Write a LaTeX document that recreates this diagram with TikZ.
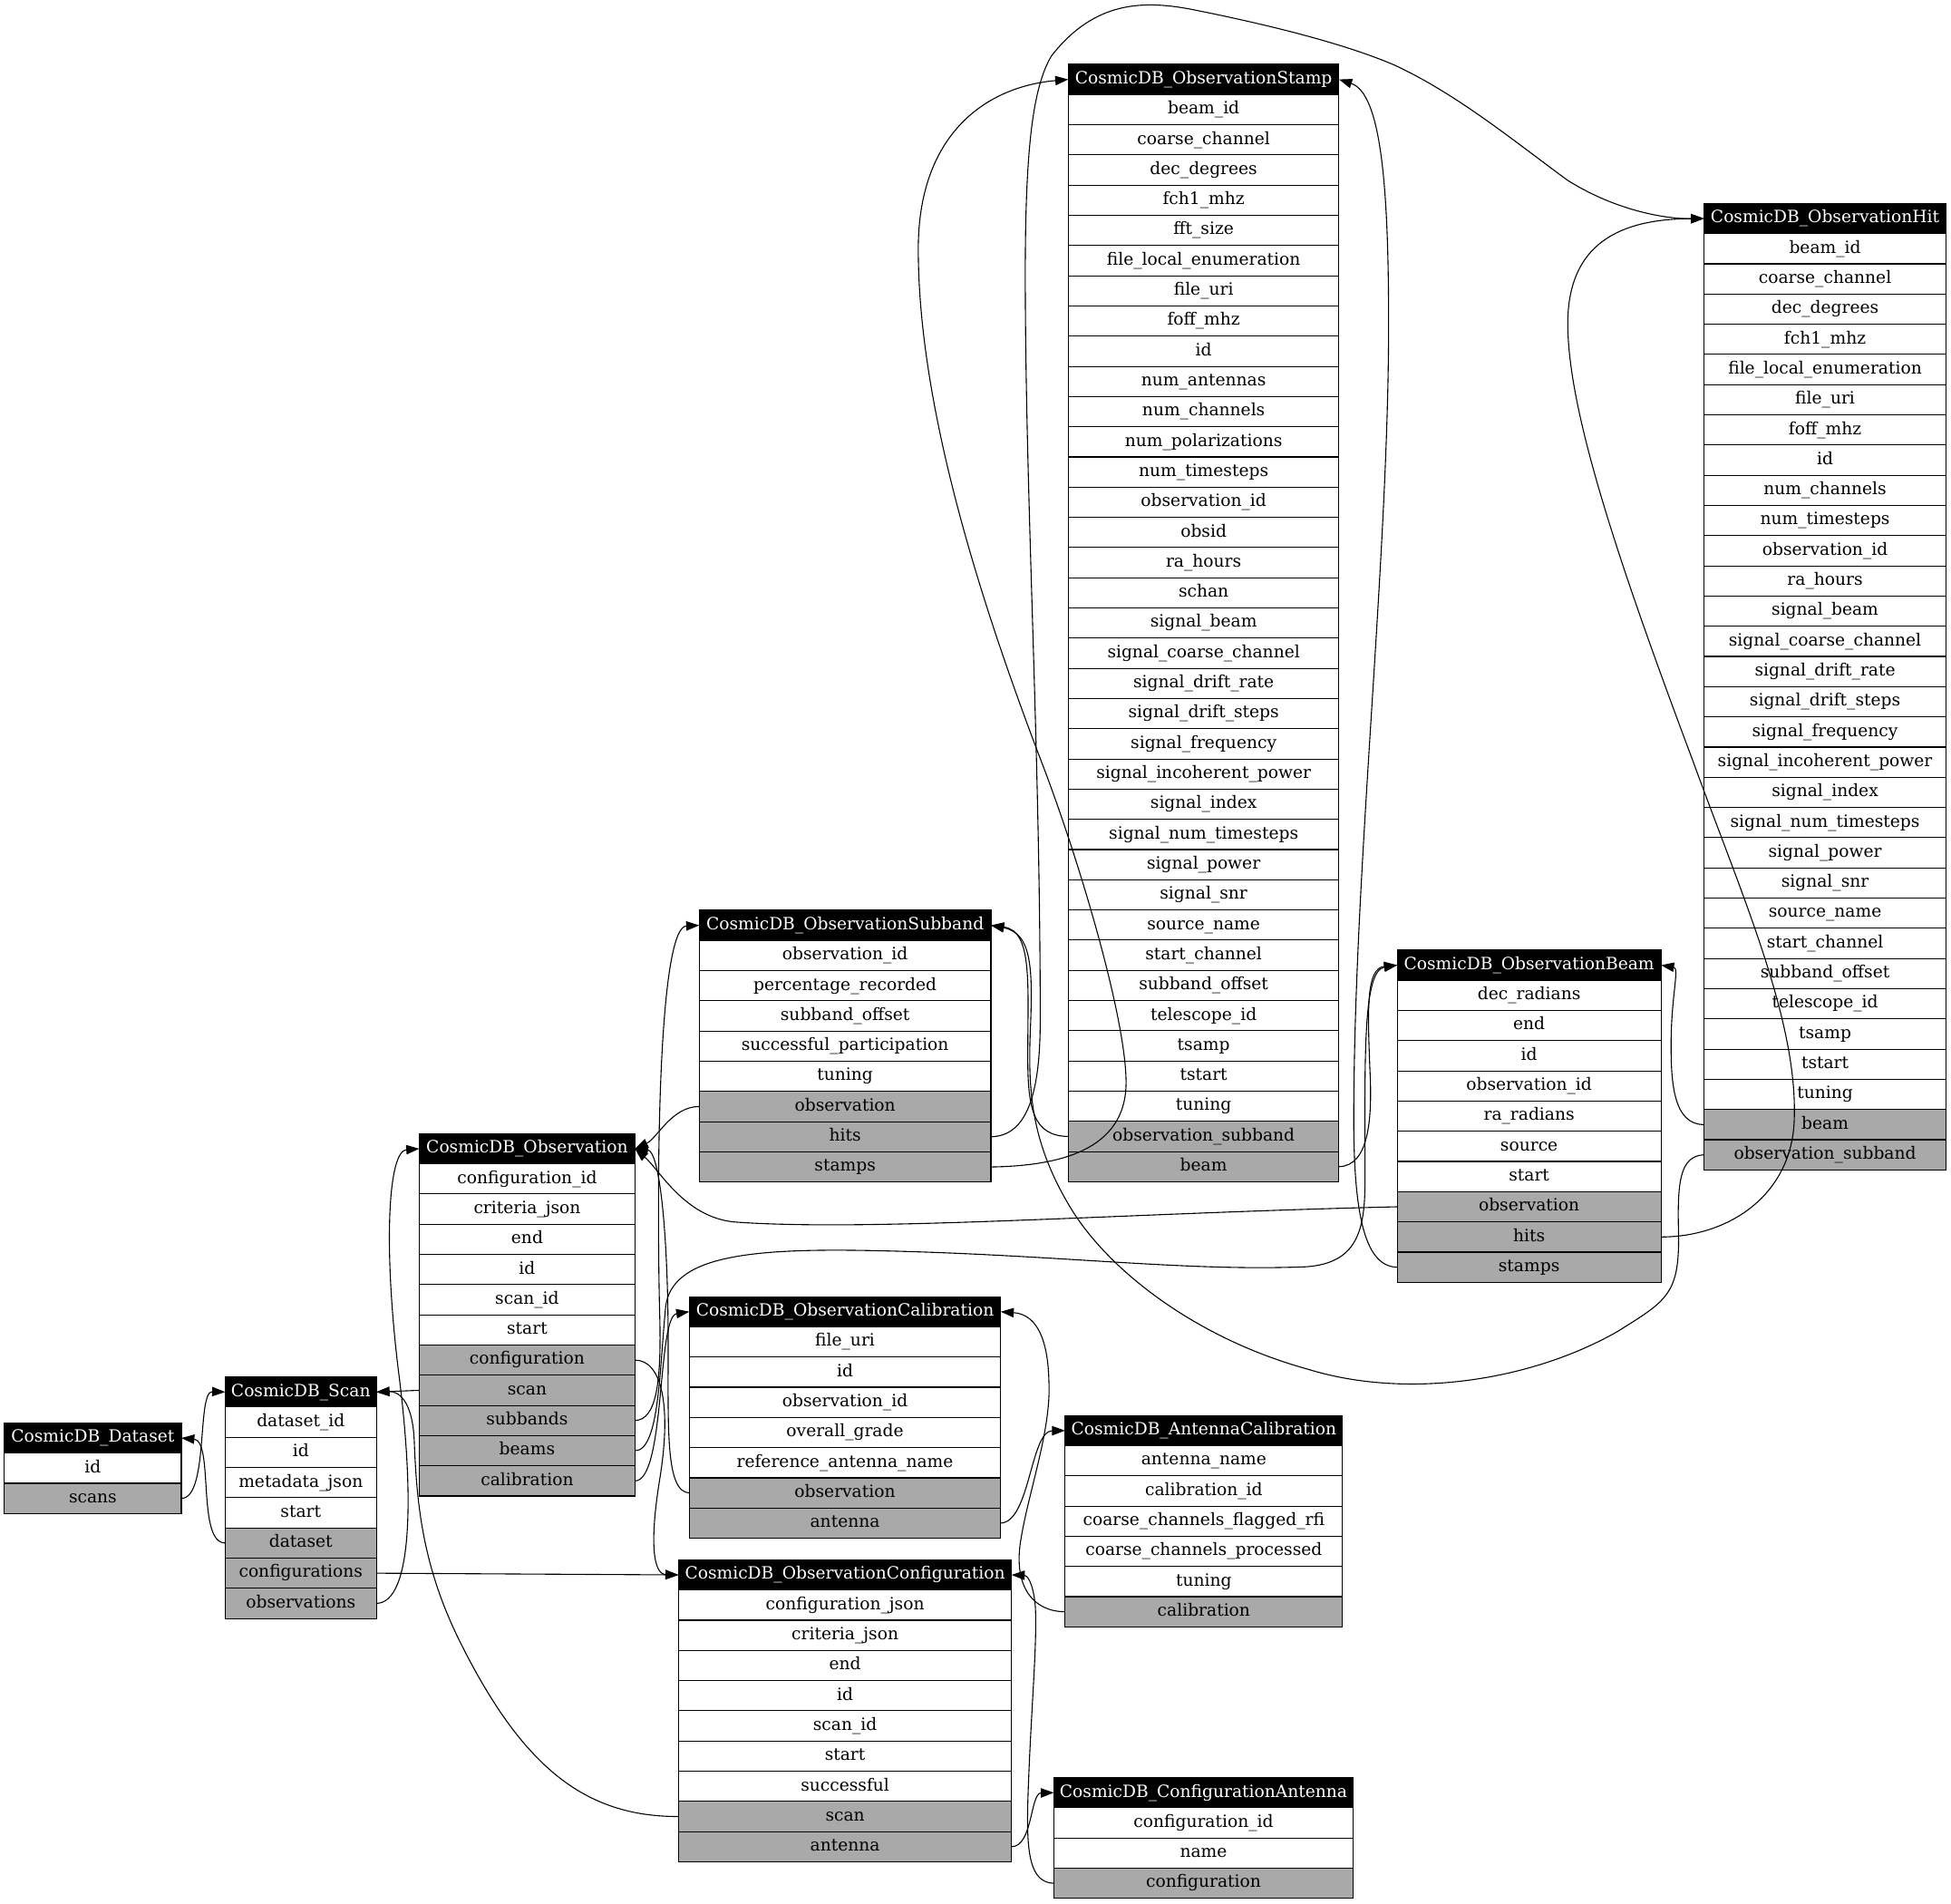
\documentclass[tikz,border=0pt]{standalone}
\usepackage{fontspec}
\setmainfont{DejaVu Serif}
\usetikzlibrary{positioning,arrows.meta}
\definecolor{linkgray}{RGB}{169,169,169}
\tikzset{
  tabcell/.style={draw=black, line width=0.8pt, minimum height=24.27pt, inner sep=0pt,
    outer sep=0pt, text height=10pt, text depth=3pt, font=\fontsize{13.6}{16}\selectfont},
  tabhead/.style={tabcell, fill=black, text=white, anchor=north west},
  tabrow/.style={tabcell, fill=white},
  tablink/.style={tabcell, fill=linkgray},
}
% one table: name, top left corner, width, title, fields, key/label of relations
\newcommand{\dbtable}[6]{%
  \node[tabhead, minimum width=#3] (#1) at #2 {#4};
  \xdef\lastrowname{#1}
  \foreach \fld [count=\i] in {#5} {
    \node[tabrow, minimum width=#3, below=0pt of \lastrowname] (#1-\i) {\fld};
    \xdef\lastrowname{#1-\i}
  }
  \foreach \key/\fld in {#6} {
    \node[tablink, minimum width=#3, below=0pt of \lastrowname] (#1-\key) {\fld};
    \xdef\lastrowname{#1-\key}
  }
}
\begin{document}
\begin{tikzpicture}[x=1pt, y=-1pt,
    fk/.style={line width=0.8pt, -{Triangle[length=10.5pt,width=7.5pt]}}]
  \useasboundingbox (0,0) rectangle (1568,1530);
  %% tables
  \dbtable{dataset}{(3.5,1143.5)}{142.2pt}{CosmicDB\_Dataset}{id}{scans/scans}
  \dbtable{scan}{(181,1106.5)}{121.5pt}{CosmicDB\_Scan}
    {dataset\_id, id, metadata\_json, start}
    {dataset/dataset, configurations/configurations, observations/observations}
  \dbtable{obs}{(337,911)}{173.3pt}{CosmicDB\_Observation}
    {configuration\_id, criteria\_json, end, id, scan\_id, start}
    {configuration/configuration, scan/scan, subbands/subbands, beams/beams, calibration/calibration}
  \dbtable{subband}{(562,731.5)}{234.4pt}{CosmicDB\_ObservationSubband}
    {observation\_id, percentage\_recorded, subband\_offset, successful\_participation, tuning}
    {observation/observation, hits/hits, stamps/stamps}
  \dbtable{obscal}{(554,1042)}{250.2pt}{CosmicDB\_ObservationCalibration}
    {file\_uri, id, observation\_id, overall\_grade, reference\_antenna\_name}
    {observation/observation, antenna/antenna}
  \dbtable{obsconf}{(545.3,1253.5)}{267.7pt}{CosmicDB\_ObservationConfiguration}
    {configuration\_json, criteria\_json, end, id, scan\_id, start, successful}
    {scan/scan, antenna/antenna}
  \dbtable{stamp}{(858.6,51.7)}{217.5pt}{CosmicDB\_ObservationStamp}
    {beam\_id, coarse\_channel, dec\_degrees, fch1\_mhz, fft\_size, file\_local\_enumeration,
     file\_uri, foff\_mhz, id, num\_antennas, num\_channels, num\_polarizations, num\_timesteps,
     observation\_id, obsid, ra\_hours, schan, signal\_beam, signal\_coarse\_channel,
     signal\_drift\_rate, signal\_drift\_steps, signal\_frequency, signal\_incoherent\_power,
     signal\_index, signal\_num\_timesteps, signal\_power, signal\_snr, source\_name,
     start\_channel, subband\_offset, telescope\_id, tsamp, tstart, tuning}
    {obsub/observation\_subband, beam/beam}
  \dbtable{antcal}{(856,1137.5)}{223pt}{CosmicDB\_AntennaCalibration}
    {antenna\_name, calibration\_id, coarse\_channels\_flagged\_rfi, coarse\_channels\_processed, tuning}
    {calibration/calibration}
  \dbtable{confant}{(847,1428.5)}{240.5pt}{CosmicDB\_ConfigurationAntenna}
    {configuration\_id, name}
    {configuration/configuration}
  \dbtable{beam}{(1122.9,763.5)}{212pt}{CosmicDB\_ObservationBeam}
    {dec\_radians, end, id, observation\_id, ra\_radians, source, start}
    {observation/observation, hits/hits, stamps/stamps}
  \dbtable{hit}{(1369.5,163.5)}{194.5pt}{CosmicDB\_ObservationHit}
    {beam\_id, coarse\_channel, dec\_degrees, fch1\_mhz, file\_local\_enumeration, file\_uri,
     foff\_mhz, id, num\_channels, num\_timesteps, observation\_id, ra\_hours, signal\_beam,
     signal\_coarse\_channel, signal\_drift\_rate, signal\_drift\_steps, signal\_frequency,
     signal\_incoherent\_power, signal\_index, signal\_num\_timesteps, signal\_power,
     signal\_snr, source\_name, start\_channel, subband\_offset, telescope\_id, tsamp,
     tstart, tuning}
    {beam/beam, obsub/observation\_subband}
  %% dataset and scan
  \draw[fk] (dataset-scans.east) .. controls (168,1204) and (158,1118) .. (scan.west);
  \draw[fk] (scan-dataset.west) .. controls (158,1240) and (172,1158) .. (dataset.east);
  \draw[fk] (scan-configurations.east) -- (obsconf.west);
  \draw[fk] (scan-observations.east) .. controls (332,1288) and (333,1200) .. (320,1100)
    .. controls (308,1000) and (312,925) .. (obs.west);
  \draw[fk] (obs-scan.west) -- (scan.east);
  \draw[fk] (obsconf-scan.west) .. controls (470,1460) and (420,1420) .. (370,1320)
    .. controls (340,1260) and (335,1210) .. (333,1160)
    .. controls (332,1125) and (320,1118) .. (scan.east);
  %% observation
  \draw[fk] (obs-configuration.east) .. controls (532,1093) and (540,1130) .. (530,1190)
    .. controls (522,1240) and (525,1265) .. (obsconf.west);
  \draw[fk] (obs-subbands.east) .. controls (528,1141) and (532,1110) .. (530,1050)
    .. controls (527,900) and (532,745) .. (subband.west);
  \draw[fk] (obs-calibration.east) .. controls (535,1190) and (528,1058) .. (obscal.west);
  \draw[fk] (obs-beams.east) .. controls (530,1166) and (530,1100) .. (535,1050)
    .. controls (540,1010) and (600,1003) .. (700,1005)
    .. controls (850,1008) and (950,1022) .. (1050,1018)
    .. controls (1090,1015) and (1097,990) .. (1097,950)
    .. controls (1097,850) and (1095,780) .. (beam.west);
  \draw[fk] (obscal-observation.west) .. controls (535,1199) and (537,1150) .. (537,1080)
    .. controls (537,990) and (530,925) .. (obs.east);
  \draw[fk] (subband-observation.west) .. controls (540,889) and (528,915) .. (obs.east);
  \draw[fk] (beam-observation.west) .. controls (900,975) and (700,990) .. (590,982)
    .. controls (550,978) and (530,940) .. (obs.east);
  %% subband, stamp, hit
  \draw[fk] (subband-hits.east) .. controls (825,913) and (836,880) .. (836,820)
    .. controls (836,600) and (824,400) .. (824,220)
    .. controls (824,120) and (830,70) .. (845,45)
    .. controls (880,0) and (920,0) .. (960,8)
    .. controls (1020,20) and (1080,35) .. (1120,52)
    .. controls (1170,75) and (1215,112) .. (1260,145)
    .. controls (1300,170) and (1340,176) .. (hit.west);
  \draw[fk] (subband-stamps.east) .. controls (850,937) and (905,925) .. (905,870)
    .. controls (905,820) and (870,700) .. (840,620)
    .. controls (790,490) and (738,330) .. (738,200)
    .. controls (738,110) and (790,70) .. (stamp.west);
  \draw[fk] (stamp-obsub.west) .. controls (830,913) and (826,890) .. (826,850)
    .. controls (826,790) and (830,748) .. (subband.east);
  \draw[fk] (stamp-beam.east) .. controls (1100,937) and (1103,900) .. (1101,860)
    .. controls (1099,810) and (1098,778) .. (beam.west);
  \draw[fk] (beam-stamps.west) .. controls (1098,1018) and (1088,980) .. (1088,900)
    .. controls (1088,700) and (1116,450) .. (1116,260)
    .. controls (1116,150) and (1110,75) .. (stamp.east);
  \draw[fk] (beam-hits.east) .. controls (1390,994) and (1440,960) .. (1442,900)
    .. controls (1445,820) and (1400,720) .. (1360,610)
    .. controls (1300,450) and (1260,330) .. (1260,260)
    .. controls (1260,190) and (1310,176) .. (hit.west);
  \draw[fk] (hit-beam.west) .. controls (1345,904) and (1343,870) .. (1343,840)
    .. controls (1343,800) and (1350,778) .. (beam.east);
  \draw[fk] (hit-obsub.west) .. controls (1350,929) and (1348,950) .. (1349,990)
    .. controls (1350,1040) and (1340,1045) .. (1300,1070)
    .. controls (1230,1110) and (1130,1125) .. (1050,1100)
    .. controls (960,1075) and (890,1020) .. (860,970)
    .. controls (830,920) and (826,880) .. (828,830)
    .. controls (830,780) and (830,750) .. (subband.east);
  %% calibration and configuration
  \draw[fk] (obscal-antenna.east) .. controls (828,1223) and (828,1150) .. (antcal.west);
  \draw[fk] (antcal-calibration.west) .. controls (830,1295) and (815,1275) .. (820,1240)
    .. controls (826,1200) and (845,1150) .. (843,1110)
    .. controls (842,1070) and (830,1056) .. (obscal.east);
  \draw[fk] (obsconf-antenna.east) .. controls (830,1484) and (828,1441) .. (confant.west);
  \draw[fk] (confant-configuration.west) .. controls (828,1513) and (825,1490) .. (826,1450)
    .. controls (828,1380) and (834,1320) .. (832,1290)
    .. controls (830,1270) and (825,1266) .. (obsconf.east);
\end{tikzpicture}
\end{document}
